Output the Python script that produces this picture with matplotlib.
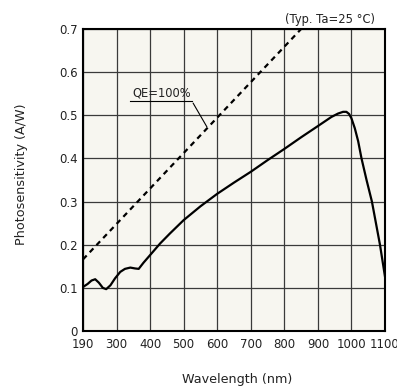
import numpy as np
import matplotlib
matplotlib.use("Agg")
import matplotlib.pyplot as plt

# Data (wavelength nm, photosensitivity A/W)
wavelength = [190, 205, 218, 230, 242, 255, 266, 280, 295, 311, 325, 341, 355, 366,
              380, 400, 430, 459, 500, 550, 600, 650, 700, 750, 800, 850, 900,
              940, 960, 975, 985, 993, 1000, 1010, 1020, 1030, 1045, 1061, 1085, 1100]
sensitivity = [0.102, 0.109, 0.117, 0.120, 0.112, 0.100, 0.097, 0.106, 0.122, 0.137,
               0.144, 0.147, 0.145, 0.144, 0.158, 0.176, 0.203, 0.226, 0.257, 0.289,
               0.318, 0.344, 0.369, 0.396, 0.422, 0.449, 0.475, 0.496, 0.504, 0.508,
               0.508, 0.503, 0.493, 0.470, 0.440, 0.400, 0.350, 0.300, 0.200, 0.126]
qe_wavelength = [190, 850]
qe_sensitivity = [0.166, 0.700]
x_ticks = [190, 300, 400, 500, 600, 700, 800, 900, 1000, 1100]
y_ticks = [0, 0.1, 0.2, 0.3, 0.4, 0.5, 0.6, 0.7]
y_tick_labels = ["0", "0.1", "0.2", "0.3", "0.4", "0.5", "0.6", "0.7"]


def fwd(w):
    w = np.asarray(w, dtype=float)
    return np.where(w >= 300, w, 300 - (300 - w) * 100.0 / 110.0)


def inv(p):
    p = np.asarray(p, dtype=float)
    return np.where(p >= 300, p, 300 - (300 - p) * 110.0 / 100.0)


W, H = 397, 387
fig = plt.figure(figsize=(W / 100, H / 100), dpi=100)
ax = fig.add_axes([83 / W, 1 - 331 / H, 302 / W, 302 / H])
ax.set_xscale("function", functions=(fwd, inv))
ax.set_facecolor("#f7f6f0")

ax.plot(wavelength, sensitivity, color="black", lw=1.6, solid_joinstyle="round", zorder=3)
ax.plot(qe_wavelength, qe_sensitivity, color="black", lw=1.6, dashes=(2.4, 2.0), zorder=3)

ax.set_xlim(190, 1100)
ax.set_ylim(0, 0.7)
ax.set_xticks(x_ticks)
ax.set_xticklabels([str(v) for v in x_ticks])
ax.set_yticks(y_ticks)
ax.set_yticklabels(y_tick_labels)
ax.tick_params(length=0, labelsize=8.5, colors="#222222")
ax.tick_params(axis="x", pad=5)
ax.tick_params(axis="y", pad=4)
ax.grid(True, color="#3a3a3a", lw=0.9)
ax.set_axisbelow(True)
for s in ax.spines.values():
    s.set_linewidth(1.5)
    s.set_color("black")

# QE label with underline and leader
ax.annotate("", xy=(208.3 / W, 1 - 129.3 / H), xycoords="figure fraction",
            xytext=(191.7 / W, 1 - 100.7 / H), textcoords="figure fraction",
            arrowprops=dict(arrowstyle="-", color="black", lw=0.8))
fig.add_artist(plt.Line2D([130 / W, 191.7 / W], [1 - 100.7 / H, 1 - 100.7 / H],
                          color="black", lw=0.8))
fig.text(162 / W, 1 - 93.5 / H, "QE=100%", ha="center", va="center", fontsize=8.3,
         color="#222222")

fig.text(375 / W, 1 - 19 / H, "(Typ. Ta=25 °C)", ha="right", va="center", fontsize=8.3,
         color="#222222")
fig.text(22 / W, 1 - 174 / H, "Photosensitivity (A/W)", rotation=90, ha="center",
         va="center", fontsize=9.2, color="#222222")
fig.text(237 / W, 1 - 380 / H, "Wavelength (nm)", ha="center", va="center", fontsize=9.2,
         color="#222222")

fig.savefig("out.png", dpi=100)
